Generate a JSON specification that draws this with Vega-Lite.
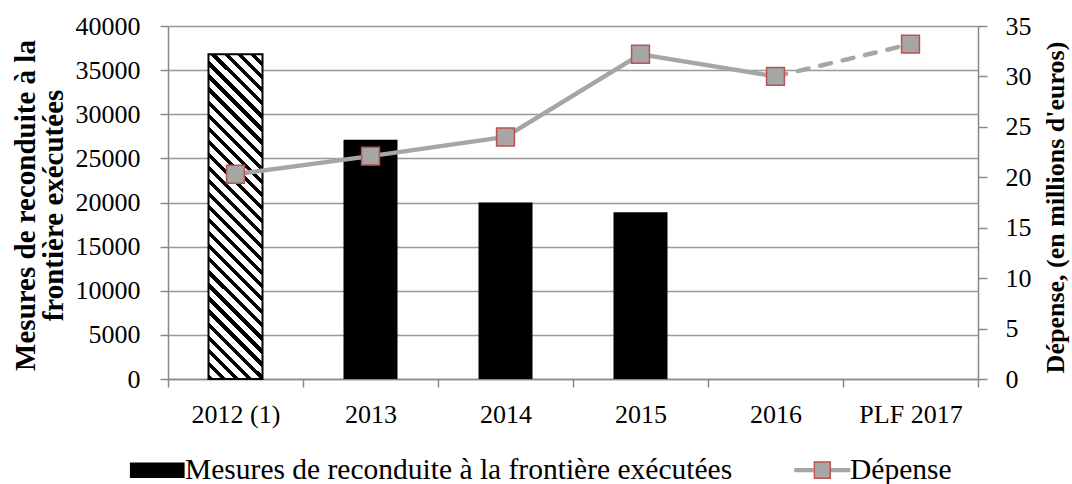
{
  "$schema": "https://vega.github.io/schema/vega-lite/v6.json",
  "width": 810,
  "height": 353,
  "autosize": {"type": "none"},
  "padding": {"left": 168, "top": 26, "right": 94, "bottom": 105},
  "background": "#ffffff",
  "config": {"view": {"stroke": null}, "font": "Liberation Serif"},
  "datasets": {
    "barres": [
      {"annee": "2013", "mesures": 27100, "serie": "Mesures de reconduite à la frontière exécutées"},
      {"annee": "2014", "mesures": 20000, "serie": "Mesures de reconduite à la frontière exécutées"},
      {"annee": "2015", "mesures": 18900, "serie": "Mesures de reconduite à la frontière exécutées"}
    ],
    "hachure": [
      {"annee": "2012 (1)", "mesures": 36800}
    ],
    "depense": [
      {"annee": "2012 (1)", "depense": 20.3},
      {"annee": "2013", "depense": 22.1},
      {"annee": "2014", "depense": 24.0},
      {"annee": "2015", "depense": 32.2},
      {"annee": "2016", "depense": 30.0},
      {"annee": "PLF 2017", "depense": 33.2}
    ]
  },
  "encoding": {
    "x": {
      "field": "annee", "type": "nominal",
      "scale": {"domain": ["2012 (1)", "2013", "2014", "2015", "2016", "PLF 2017"], "paddingInner": 0, "paddingOuter": 0},
      "axis": {
        "title": null, "labelAngle": 0, "tickBand": "extent", "grid": false,
        "domainColor": "#888888", "domainWidth": 1.5, "tickColor": "#888888", "tickWidth": 1.5, "tickSize": 8,
        "labelFont": "Liberation Serif", "labelFontSize": 26, "labelColor": "#000000",
        "labelBaseline": "alphabetic", "labelPadding": 35
      }
    }
  },
  "layer": [
    {
      "layer": [
        {
          "data": {"name": "barres"},
          "mark": {"type": "bar", "width": {"band": 0.4}},
          "encoding": {
            "y": {
              "field": "mesures", "type": "quantitative",
              "scale": {"domain": [0, 40000], "nice": false},
              "axis": {
                "orient": "left", "values": [0, 5000, 10000, 15000, 20000, 25000, 30000, 35000, 40000], "format": "d",
                "grid": true, "gridColor": "#999999", "gridWidth": 1.5,
                "domainColor": "#888888", "domainWidth": 1.5, "tickColor": "#888888", "tickWidth": 1.5, "tickSize": 8,
                "labelFont": "Liberation Serif", "labelFontSize": 26, "labelColor": "#000000", "labelPadding": 20,
                "title": ["Mesures de reconduite à la", "frontière exécutées"],
                "titleFont": "Liberation Serif", "titleFontSize": 29, "titleFontWeight": "bold", "titleColor": "#000000",
                "titleAngle": -90, "titleAlign": "center", "titleBaseline": "alphabetic", "titleLineHeight": 28,
                "titleX": -134, "titleY": 179
              }
            },
            "color": {
              "field": "serie", "type": "nominal",
              "scale": {"domain": ["Mesures de reconduite à la frontière exécutées", "Dépense"], "range": ["#000000", "#a6a6a6"]},
              "legend": {
                "orient": "none", "legendX": -36, "legendY": 429, "direction": "horizontal", "title": null, "padding": 0,
                "labelFont": "Liberation Serif", "labelFontSize": 29.5, "labelColor": "#000000", "labelLimit": 0,
                "symbolSize": 196, "symbolOffset": 10.5, "labelOffset": 13, "columnPadding": 58, "symbolStrokeWidth": 1.5,
                "encode": {
                  "symbols": {
                    "update": {
                      "shape": {"signal": "datum.value === 'Dépense' ? 'M-3.9,-0.2H-1.15V0.2H-3.9Z M1.15,-0.2H3.9V0.2H1.15Z M-1.15,-1.15H1.15V1.15H-1.15Z' : 'M-3.8,-1H3.8V1H-3.8Z'"},
                      "fill": {"signal": "datum.value === 'Dépense' ? '#a6a6a6' : '#000000'"},
                      "stroke": {"signal": "datum.value === 'Dépense' ? {gradient: 'linear', x1: 0, y1: 0, x2: 1, y2: 0, stops: [{offset: 0, color: '#a6a6a6'}, {offset: 0.34, color: '#a6a6a6'}, {offset: 0.34, color: '#c0504d'}, {offset: 0.66, color: '#c0504d'}, {offset: 0.66, color: '#a6a6a6'}, {offset: 1, color: '#a6a6a6'}]} : '#000000'"},
                      "strokeWidth": {"value": 1.5},
                      "opacity": {"value": 1}
                    }
                  }
                }
              }
            }
          }
        },
        {
          "data": {"name": "hachure"},
          "mark": {
            "type": "bar", "width": {"band": 0.4}, "stroke": "#000000", "strokeWidth": 2,
            "fill": {
              "gradient": "linear", "x1": 0, "y1": 1, "x2": 0.1885, "y2": -0.1348,
              "stops": [
                {"offset": 0, "color": "#000"}, {"offset": 0.0138, "color": "#000"}, {"offset": 0.0138, "color": "#fff"}, {"offset": 0.0345, "color": "#fff"},
                {"offset": 0.0345, "color": "#000"}, {"offset": 0.0483, "color": "#000"}, {"offset": 0.0483, "color": "#fff"}, {"offset": 0.069, "color": "#fff"},
                {"offset": 0.069, "color": "#000"}, {"offset": 0.0828, "color": "#000"}, {"offset": 0.0828, "color": "#fff"}, {"offset": 0.1034, "color": "#fff"},
                {"offset": 0.1034, "color": "#000"}, {"offset": 0.1172, "color": "#000"}, {"offset": 0.1172, "color": "#fff"}, {"offset": 0.1379, "color": "#fff"},
                {"offset": 0.1379, "color": "#000"}, {"offset": 0.1517, "color": "#000"}, {"offset": 0.1517, "color": "#fff"}, {"offset": 0.1724, "color": "#fff"},
                {"offset": 0.1724, "color": "#000"}, {"offset": 0.1862, "color": "#000"}, {"offset": 0.1862, "color": "#fff"}, {"offset": 0.2069, "color": "#fff"},
                {"offset": 0.2069, "color": "#000"}, {"offset": 0.2207, "color": "#000"}, {"offset": 0.2207, "color": "#fff"}, {"offset": 0.2414, "color": "#fff"},
                {"offset": 0.2414, "color": "#000"}, {"offset": 0.2552, "color": "#000"}, {"offset": 0.2552, "color": "#fff"}, {"offset": 0.2759, "color": "#fff"},
                {"offset": 0.2759, "color": "#000"}, {"offset": 0.2897, "color": "#000"}, {"offset": 0.2897, "color": "#fff"}, {"offset": 0.3103, "color": "#fff"},
                {"offset": 0.3103, "color": "#000"}, {"offset": 0.3241, "color": "#000"}, {"offset": 0.3241, "color": "#fff"}, {"offset": 0.3448, "color": "#fff"},
                {"offset": 0.3448, "color": "#000"}, {"offset": 0.3586, "color": "#000"}, {"offset": 0.3586, "color": "#fff"}, {"offset": 0.3793, "color": "#fff"},
                {"offset": 0.3793, "color": "#000"}, {"offset": 0.3931, "color": "#000"}, {"offset": 0.3931, "color": "#fff"}, {"offset": 0.4138, "color": "#fff"},
                {"offset": 0.4138, "color": "#000"}, {"offset": 0.4276, "color": "#000"}, {"offset": 0.4276, "color": "#fff"}, {"offset": 0.4483, "color": "#fff"},
                {"offset": 0.4483, "color": "#000"}, {"offset": 0.4621, "color": "#000"}, {"offset": 0.4621, "color": "#fff"}, {"offset": 0.4828, "color": "#fff"},
                {"offset": 0.4828, "color": "#000"}, {"offset": 0.4966, "color": "#000"}, {"offset": 0.4966, "color": "#fff"}, {"offset": 0.5172, "color": "#fff"},
                {"offset": 0.5172, "color": "#000"}, {"offset": 0.531, "color": "#000"}, {"offset": 0.531, "color": "#fff"}, {"offset": 0.5517, "color": "#fff"},
                {"offset": 0.5517, "color": "#000"}, {"offset": 0.5655, "color": "#000"}, {"offset": 0.5655, "color": "#fff"}, {"offset": 0.5862, "color": "#fff"},
                {"offset": 0.5862, "color": "#000"}, {"offset": 0.6, "color": "#000"}, {"offset": 0.6, "color": "#fff"}, {"offset": 0.6207, "color": "#fff"},
                {"offset": 0.6207, "color": "#000"}, {"offset": 0.6345, "color": "#000"}, {"offset": 0.6345, "color": "#fff"}, {"offset": 0.6552, "color": "#fff"},
                {"offset": 0.6552, "color": "#000"}, {"offset": 0.669, "color": "#000"}, {"offset": 0.669, "color": "#fff"}, {"offset": 0.6897, "color": "#fff"},
                {"offset": 0.6897, "color": "#000"}, {"offset": 0.7034, "color": "#000"}, {"offset": 0.7034, "color": "#fff"}, {"offset": 0.7241, "color": "#fff"},
                {"offset": 0.7241, "color": "#000"}, {"offset": 0.7379, "color": "#000"}, {"offset": 0.7379, "color": "#fff"}, {"offset": 0.7586, "color": "#fff"},
                {"offset": 0.7586, "color": "#000"}, {"offset": 0.7724, "color": "#000"}, {"offset": 0.7724, "color": "#fff"}, {"offset": 0.7931, "color": "#fff"},
                {"offset": 0.7931, "color": "#000"}, {"offset": 0.8069, "color": "#000"}, {"offset": 0.8069, "color": "#fff"}, {"offset": 0.8276, "color": "#fff"},
                {"offset": 0.8276, "color": "#000"}, {"offset": 0.8414, "color": "#000"}, {"offset": 0.8414, "color": "#fff"}, {"offset": 0.8621, "color": "#fff"},
                {"offset": 0.8621, "color": "#000"}, {"offset": 0.8759, "color": "#000"}, {"offset": 0.8759, "color": "#fff"}, {"offset": 0.8966, "color": "#fff"},
                {"offset": 0.8966, "color": "#000"}, {"offset": 0.9103, "color": "#000"}, {"offset": 0.9103, "color": "#fff"}, {"offset": 0.931, "color": "#fff"},
                {"offset": 0.931, "color": "#000"}, {"offset": 0.9448, "color": "#000"}, {"offset": 0.9448, "color": "#fff"}, {"offset": 0.9655, "color": "#fff"},
                {"offset": 0.9655, "color": "#000"}, {"offset": 0.9793, "color": "#000"}, {"offset": 0.9793, "color": "#fff"}, {"offset": 1, "color": "#fff"}
              ]
            }
          },
          "encoding": {
            "y": {"field": "mesures", "type": "quantitative"}
          }
        }
      ]
    },
    {
      "data": {"name": "depense"},
      "layer": [
        {
          "transform": [{"filter": "datum.annee === '2016' || datum.annee === 'PLF 2017'"}],
          "mark": {"type": "line", "color": "#a6a6a6", "strokeWidth": 4.5, "strokeDash": [11, 12], "strokeCap": "round"},
          "encoding": {
            "y": {
              "field": "depense", "type": "quantitative",
              "scale": {"domain": [0, 35], "nice": false},
              "axis": {
                "orient": "right", "values": [0, 5, 10, 15, 20, 25, 30, 35], "grid": false,
                "domainColor": "#888888", "domainWidth": 1.5, "tickColor": "#888888", "tickWidth": 1.5, "tickSize": 9,
                "labelFont": "Liberation Serif", "labelFontSize": 26, "labelColor": "#000000", "labelPadding": 18,
                "title": "Dépense, (en millions d'euros)",
                "titleFont": "Liberation Serif", "titleFontSize": 26, "titleFontWeight": "bold", "titleColor": "#000000",
                "titleAngle": -90, "titleAlign": "center", "titleBaseline": "alphabetic",
                "titleX": 85, "titleY": 181
              }
            }
          }
        },
        {
          "transform": [{"filter": "datum.annee !== 'PLF 2017'"}],
          "mark": {"type": "line", "color": "#a6a6a6", "strokeWidth": 4.5},
          "encoding": {
            "y": {"field": "depense", "type": "quantitative"}
          }
        },
        {
          "mark": {"type": "point", "shape": "square", "filled": true, "fill": "#a6a6a6", "stroke": "#c0504d", "strokeWidth": 1.5, "size": 320, "opacity": 1},
          "encoding": {
            "y": {"field": "depense", "type": "quantitative"}
          }
        }
      ]
    }
  ],
  "resolve": {"scale": {"y": "independent"}}
}
